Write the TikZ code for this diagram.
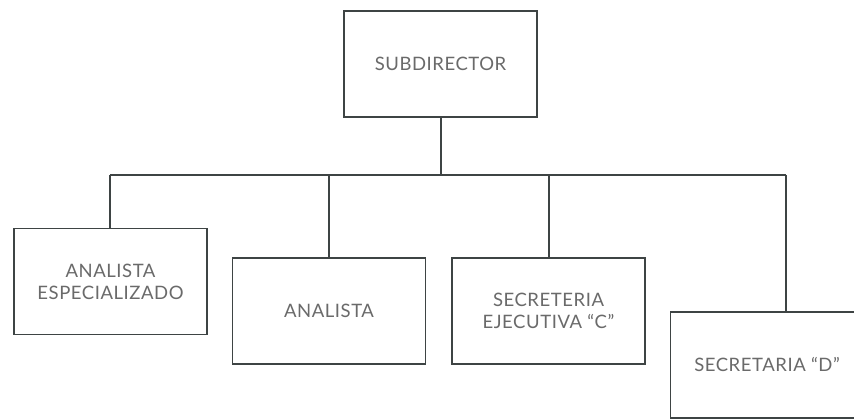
\documentclass[tikz,border=0pt]{standalone}
\usepackage{fontspec}
\setmainfont{Lato}[LetterSpace=3]
\begin{document}
\begin{tikzpicture}[x=1pt,y=-1pt,
  orgbox/.style={draw=linec, line width=1.6pt, fill=white, inner sep=0pt,
    minimum width=193pt, minimum height=106pt, align=center,
    font=\fontsize{18.5}{22}\selectfont, text=textc},
  conn/.style={draw=linec, line width=2pt}]
\definecolor{linec}{HTML}{3E4444}
\definecolor{textc}{HTML}{6A6A6A}
\useasboundingbox (0,0) rectangle (854,419);
\fill[white] (0,0) rectangle (854,419);
\node[orgbox] (top) at (440.5,64) {SUBDIRECTOR};
\node[orgbox] (b1) at (110.5,281.5) {ANALISTA\\ESPECIALIZADO};
\node[orgbox] (b2) at (329,311) {ANALISTA};
\node[orgbox] (b3) at (548.5,311) {SECRETERIA\\EJECUTIVA ``C''};
\node[orgbox] (b4) at (767,365) {SECRETARIA ``D''};
\coordinate (busL) at (110,175);
\coordinate (busR) at (786,175);
\draw[conn] (top.south) -- (top.south |- busL);
\draw[conn] (busL) -- (busR);
\draw[conn] (busL) -- (busL |- b1.north);
\draw[conn] (b2.north |- busL) -- (b2.north);
\draw[conn] (b3.north |- busL) -- (b3.north);
\draw[conn] (busR) -- (busR |- b4.north);
\end{tikzpicture}
\end{document}
